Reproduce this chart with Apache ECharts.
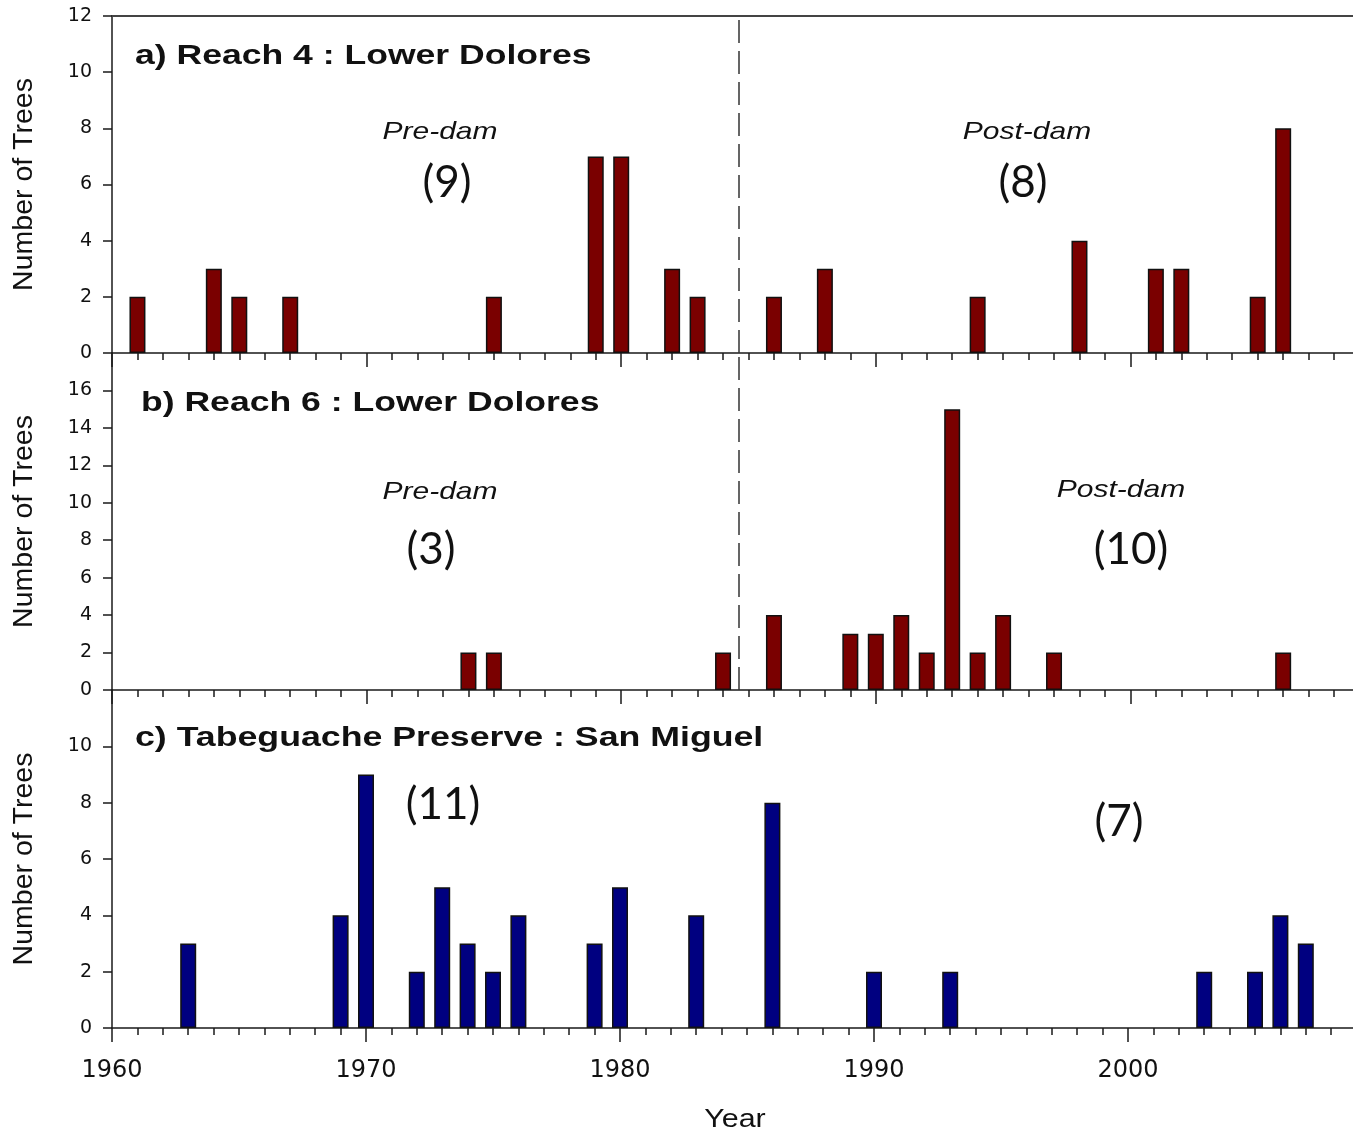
<!DOCTYPE html>
<html>
<head>
<meta charset="utf-8">
<title>Tree establishment by year</title>
<script src="https://cdn.jsdelivr.net/npm/echarts@6/dist/echarts.min.js"></script>
<style>
  html, body { margin: 0; padding: 0; background: #fff; overflow: hidden; }
  /* the plot area runs on to 2010, just past the right edge of the page */
  #chart { width: 1385px; height: 1134px; }
</style>
</head>
<body>
<div id="chart"></div>
<script>
// Establishment year of sampled trees, and number of trees per year
const yearsA  = [1961, 1964, 1965, 1967, 1975, 1979, 1980, 1982, 1983, 1986, 1988, 1994, 1998, 2001, 2002, 2005, 2006];
const countsA = [2, 3, 2, 2, 2, 7, 7, 3, 2, 2, 3, 2, 4, 3, 3, 2, 8];

const yearsB  = [1974, 1975, 1984, 1986, 1989, 1990, 1991, 1992, 1993, 1994, 1995, 1997, 2006];
const countsB = [2, 2, 2, 4, 3, 3, 4, 2, 15, 2, 4, 2, 2];

const yearsC  = [1963, 1969, 1970, 1972, 1973, 1974, 1975, 1976, 1979, 1980, 1983, 1986, 1990, 1993, 2003, 2005, 2006, 2007];
const countsC = [3, 4, 9, 2, 5, 3, 2, 4, 3, 5, 4, 8, 2, 2, 2, 2, 4, 3];

const panelTitles = ['a) Reach 4 : Lower Dolores', 'b) Reach 6 : Lower Dolores', 'c) Tabeguache Preserve : San Miguel'];
const yMax = [12, 18, 12];
const xTickLabels = [1960, 1970, 1980, 1990, 2000];

// Dam closure, splitting the Dolores records into pre- and post-dam years
const damYear = 1984.6;
// Split used for the San Miguel counts
const splitC = 1985;

const pairs = (xs, ys) => xs.map((x, i) => [x, ys[i]]);
const countBefore = (xs, t) => xs.filter(x => x < t).length;
const countAfter = (xs, t) => xs.filter(x => x > t).length;

const RED = '#7a0000';
const BLUE = '#000080';
const INK = '#1a1a1a';

const grids = [
  { left: 112, right: 0, top: 16, height: 337 },
  { left: 112, right: 0, top: 353, height: 337 },
  { left: 112, right: 0, top: 690, height: 338 }
];

function xAxisFor(gi, showLabels) {
  return {
    type: 'value', gridIndex: gi, min: 1960, max: 2010, interval: 10,
    axisLine: { show: true, onZero: false, lineStyle: { color: INK, width: 1.5 } },
    axisTick: { show: true, length: 14, lineStyle: { color: INK, width: 1.5 } },
    minorTick: { show: true, splitNumber: 10, length: 7, lineStyle: { color: INK, width: 1.5 } },
    splitLine: { show: false },
    axisLabel: {
      show: showLabels, margin: 31,
      fontFamily: 'DejaVu Sans', fontSize: 24, color: '#111',
      formatter: v => (xTickLabels.indexOf(v) >= 0 ? String(v) : '')
    }
  };
}

function yAxisFor(gi) {
  return {
    type: 'value', gridIndex: gi, min: 0, max: yMax[gi], interval: 2,
    name: 'Number of Trees', nameLocation: 'middle', nameGap: 73,
    nameTextStyle: { fontFamily: 'Liberation Sans', fontSize: 28.5, color: '#111' },
    axisLine: { show: true, lineStyle: { color: INK, width: 1.5 } },
    axisTick: { show: true, length: 9, lineStyle: { color: INK, width: 1.5 } },
    splitLine: { show: false },
    axisLabel: {
      margin: 20, fontFamily: 'DejaVu Sans', fontSize: 19, color: '#111',
      showMaxLabel: gi === 0
    }
  };
}

const damLine = {
  silent: true, symbol: 'none',
  label: { show: false },
  lineStyle: { color: '#333', width: 1.5, type: [23, 8] },
  data: [{ xAxis: damYear }]
};

function barSeries(gi, xs, ys, color, withDam) {
  const s = {
    type: 'bar', xAxisIndex: gi, yAxisIndex: gi,
    data: pairs(xs, ys), barWidth: 16,
    itemStyle: { color: color, borderColor: '#111', borderWidth: 1.5 },
    animation: false
  };
  if (withDam) s.markLine = damLine;
  return s;
}

// Annotation text; Arial-style labels are drawn slightly widened
function label(x, y, text, font, align, sx) {
  return {
    type: 'text', x: x, y: y, scaleX: sx || 1, silent: true,
    style: { x: 0, y: 0, text: text, font: font, fill: '#111', textAlign: align, textVerticalAlign: 'middle' }
  };
}
const titleFont = 'bold 28px "Liberation Sans", Arial, sans-serif';
const italicFont = 'italic 24px "Liberation Sans", Arial, sans-serif';
const countFont = '44px Lato, "Open Sans", sans-serif';

const graphics = [
  label(135, 56, panelTitles[0], titleFont, 'left', 1.27),
  label(440, 132, 'Pre-dam', italicFont, 'center', 1.25),
  label(447, 183, '(' + countBefore(yearsA, damYear) + ')', countFont, 'center'),
  label(1027, 132, 'Post-dam', italicFont, 'center', 1.25),
  label(1023, 183, '(' + countAfter(yearsA, damYear) + ')', countFont, 'center'),

  label(141, 403, panelTitles[1], titleFont, 'left', 1.27),
  label(440, 492, 'Pre-dam', italicFont, 'center', 1.25),
  label(431, 550, '(' + countBefore(yearsB, damYear) + ')', countFont, 'center'),
  label(1121, 490, 'Post-dam', italicFont, 'center', 1.25),
  label(1131, 550, '(' + countAfter(yearsB, damYear) + ')', countFont, 'center'),

  label(135, 738, panelTitles[2], titleFont, 'left', 1.275),
  label(443, 805, '(' + countBefore(yearsC, splitC) + ')', countFont, 'center'),
  label(1119, 822, '(' + countAfter(yearsC, splitC) + ')', countFont, 'center'),

  label(735, 1120, 'Year', '26px "Liberation Sans", Arial, sans-serif', 'center', 1.17)
];

const chart = echarts.init(document.getElementById('chart'), null, { renderer: 'canvas' });
chart.setOption({
  backgroundColor: '#fff',
  animation: false,
  grid: grids,
  xAxis: [
    xAxisFor(0, false), xAxisFor(1, false), xAxisFor(2, true),
    // frame line along the top of the first panel
    {
      type: 'value', gridIndex: 0, position: 'top', min: 1960, max: 2010,
      axisLine: { show: true, onZero: false, lineStyle: { color: '#444', width: 2 } },
      axisTick: { show: false }, axisLabel: { show: false }, splitLine: { show: false }
    }
  ],
  yAxis: [yAxisFor(0), yAxisFor(1), yAxisFor(2)],
  series: [
    barSeries(0, yearsA, countsA, RED, true),
    barSeries(1, yearsB, countsB, RED, true),
    barSeries(2, yearsC, countsC, BLUE, false)
  ],
  graphic: graphics
});
</script>
</body>
</html>
